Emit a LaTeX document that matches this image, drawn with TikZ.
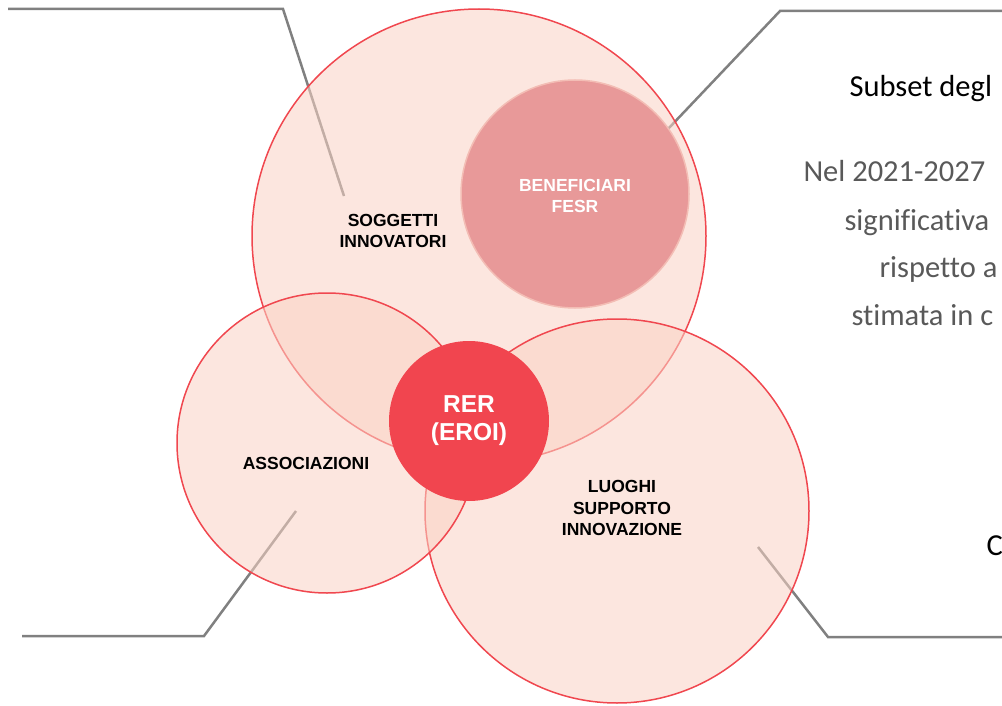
\documentclass[tikz,border=0pt]{standalone}
\usepackage{fontspec}
\setmainfont{Carlito}[Ligatures=CommonOff]
\newfontfamily\lblfont{Liberation Sans}
\usetikzlibrary{positioning}
\definecolor{ringred}{HTML}{F0474F}
\definecolor{setpink}{HTML}{FAD2C4}
\definecolor{fesrpink}{HTML}{E89999}
\definecolor{fesrring}{HTML}{F3BDB5}
\definecolor{rerred}{HTML}{F1454F}
\definecolor{leadgray}{HTML}{808080}
\definecolor{textgray}{HTML}{595959}
\tikzset{
  setcircle/.style={circle, draw=ringred, line width=1.5pt, fill=setpink, fill opacity=.55, inner sep=0pt},
  leader/.style={draw=leadgray, line width=2.5pt},
  setlabel/.style={font=\lblfont\bfseries\fontsize{17.5}{21.5}\selectfont, align=center, text=black},
  bodyline/.style={anchor=base west, font=\fontsize{30.5}{36}\selectfont, text=textgray}
}
\begin{document}
\begin{tikzpicture}[x=1pt, y=-1pt]
  \useasboundingbox (0,0) rectangle (1002,706);
  \clip (0,0) rectangle (1002,706);
  % leader lines (behind the circles)
  \coordinate (tlstart) at (8,9);
  \coordinate (tlbend) at (283,9);
  \coordinate (trend) at (1002,11);
  \coordinate (trbend) at (780,11);
  \coordinate (blstart) at (22,636);
  \coordinate (blbend) at (204,636);
  \coordinate (brend) at (1002,637);
  \coordinate (brbend) at (828,637);
  \coordinate (tltip) at (344,196);
  \coordinate (trtip) at (668,129);
  \coordinate (bltip) at (296,511);
  \coordinate (brtip) at (758,547);
  \draw[leader] (tlstart) -- (tlbend) -- (tltip);
  \draw[leader] (trend) -- (trbend) -- (trtip);
  \draw[leader] (blstart) -- (blbend) -- (bltip);
  \draw[leader] (brend) -- (brbend) -- (brtip);
  % the sets
  \node[setcircle, minimum size=454pt] (sogg) at (479,236) {};
  \node[setcircle, minimum size=384pt] (luoghi) at (617,511) {};
  \node[setcircle, minimum size=300pt] (assoc) at (327,443) {};
  \node[circle, fill=fesrpink, draw=fesrring, line width=1.5pt, minimum size=228pt] (fesr) at (575,194) {};
  \node[circle, fill=rerred, minimum size=160pt] (rer) at (469,421) {};
  % labels
  \node[setlabel] (soggtxt) at (393,231) {SOGGETTI\\INNOVATORI};
  \node[setlabel, text=white] (fesrtxt) at (575,196) {BENEFICIARI\\FESR};
  \node[setlabel] (assoctxt) at (306,463) {ASSOCIAZIONI};
  \node[setlabel] (luoghitxt) at (622,508) {LUOGHI\\SUPPORTO\\INNOVAZIONE};
  \node[setlabel, text=white, font=\lblfont\bfseries\fontsize{24.5}{28}\selectfont] (rertxt) at (469,421) {RER\\(EROI)};
  % side text (cut by the frame)
  \node[bodyline, text=black] (subset) at (846,97) {Subset degl};
  \node[bodyline] (nel) at (800,182) {Nel 2021-2027};
  \node[bodyline] (signif) at (841,230) {significativa};
  \node[bodyline] (risp) at (876,277) {rispetto a};
  \node[bodyline] (stim) at (848,325) {stimata in c};
  \node[bodyline, text=black] (ctxt) at (983,555) {C};
\end{tikzpicture}
\end{document}
